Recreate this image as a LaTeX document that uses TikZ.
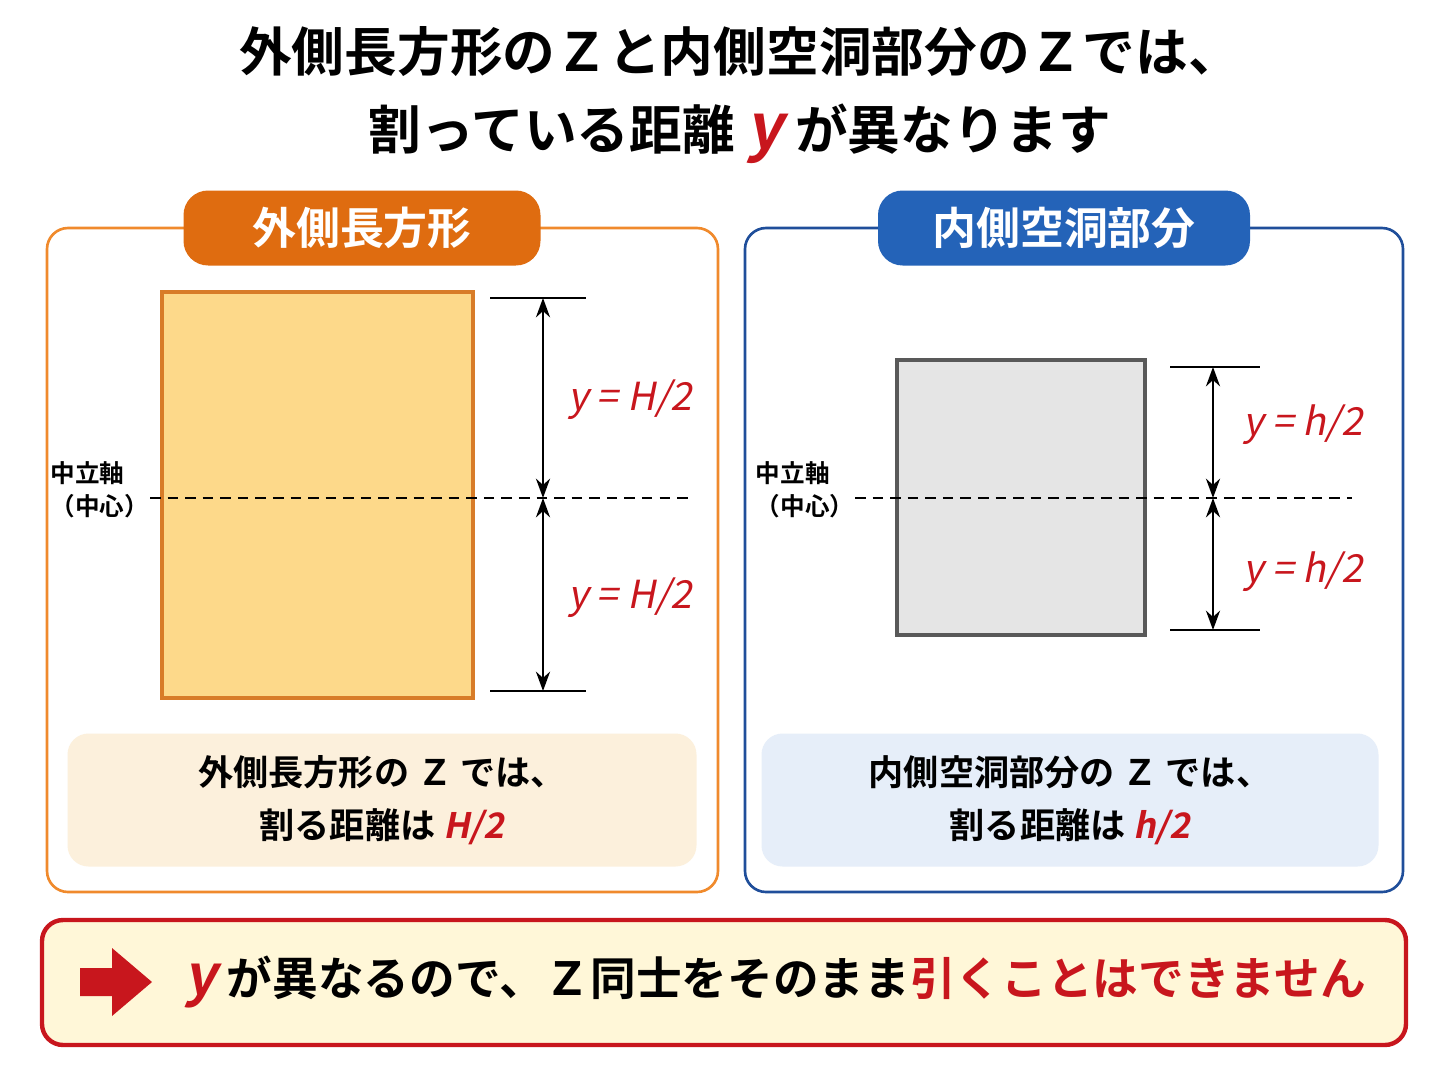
\documentclass[tikz,border=0pt]{standalone}
\usepackage{fontspec}
\setmainfont{Noto Sans CJK JP}[BoldFont={Noto Sans CJK JP Bold}]
\newfontfamily\slantfont{Noto Sans CJK JP}[FakeSlant=0.2, BoldFont={Noto Sans CJK JP Bold}, BoldFeatures={FakeSlant=0.2}]
\usetikzlibrary{arrows.meta}
\definecolor{orangeline}{HTML}{F08A2C}
\definecolor{orangetab}{HTML}{DF6C10}
\definecolor{yellowfill}{HTML}{FDD98A}
\definecolor{blueline}{HTML}{1F4E9A}
\definecolor{bluetab}{HTML}{2463B8}
\definecolor{redtext}{HTML}{C8161D}
\definecolor{peach}{HTML}{FCF0DC}
\definecolor{paleblue}{HTML}{E6EEF9}
\definecolor{cream}{HTML}{FFF7D8}
\tikzstyle{panel} = [rounded corners=12pt, line width=1.5pt, fill=white]
\tikzstyle{tab} = [rounded corners=14pt, text=white, font=\fontsize{25}{28}\selectfont\bfseries]
\tikzstyle{dim} = [line width=1.4pt, {Stealth[length=11pt,width=8pt]}-{Stealth[length=11pt,width=8pt]}]
\tikzstyle{tick} = [line width=1.4pt]
\tikzstyle{axis} = [dashed, line width=1.3pt, dash pattern=on 6pt off 4pt]
\tikzstyle{ylabel} = [text=redtext, font=\fontsize{22}{24}\selectfont\slantfont]
\tikzstyle{axlabel} = [font=\fontsize{14}{19}\selectfont\bfseries, align=left]
\tikzstyle{note} = [font=\fontsize{20}{30}\selectfont\bfseries, align=center]
\begin{document}
\begin{tikzpicture}[x=0.02cm, y=-0.02cm]
\useasboundingbox (0,0) rectangle (1448,1086);

% title
\node (title) [font=\fontsize{30}{44}\selectfont\bfseries, align=center] at (740,95)
  {外側長方形のＺと内側空洞部分のＺでは、\\割っている距離 {\color{redtext}\slantfont\fontsize{36}{40}\selectfont y} が異なります};

% left panel
\draw [panel, draw=orangeline] (47,228) rectangle (718,892);
\node (ltab) [tab, fill=orangetab, minimum width=357*0.02cm, minimum height=75*0.02cm] at (362,228) {外側長方形};
\draw [fill=yellowfill, draw=orangeline!90!black, line width=2pt] (162,292) rectangle (473,698);
\coordinate (ltop) at (543,298);
\coordinate (lmid) at (543,498);
\coordinate (lbot) at (543,691);
\draw [tick] (490,298) -- (586,298);
\draw [tick] (490,691) -- (586,691);
\draw [dim] (ltop) -- (lmid);
\draw [dim] (lmid) -- (lbot);
\draw [axis] (150,498) -- (688,498);
\node (lyt) [ylabel] at (630,400) {y = H/2};
\node (lyb) [ylabel] at (630,598) {y = H/2};
\node (lax) [axlabel] at (100,490) {中立軸\\（中心）};
\node (lnote) [note, fill=peach, rounded corners=12pt, minimum width=629*0.02cm, minimum height=133*0.02cm] at (382,800)
  {外側長方形の Ｚ では、\\割る距離は {\color{redtext}\slantfont H/2}};

% right panel
\draw [panel, draw=blueline] (745,228) rectangle (1403,892);
\node (rtab) [tab, fill=bluetab, minimum width=372*0.02cm, minimum height=75*0.02cm] at (1064,228) {内側空洞部分};
\draw [fill=gray!20, draw=gray!130, line width=2pt] (897,360) rectangle (1145,635);
\coordinate (rtop) at (1213,367);
\coordinate (rmid) at (1213,498);
\coordinate (rbot) at (1213,630);
\draw [tick] (1170,367) -- (1260,367);
\draw [tick] (1170,630) -- (1260,630);
\draw [dim] (rtop) -- (rmid);
\draw [dim] (rmid) -- (rbot);
\draw [axis] (855,498) -- (1352,498);
\node (ryt) [ylabel] at (1303,425) {y = h/2};
\node (ryb) [ylabel] at (1303,572) {y = h/2};
\node (rax) [axlabel] at (805,490) {中立軸\\（中心）};
\node (rnote) [note, fill=paleblue, rounded corners=12pt, minimum width=617*0.02cm, minimum height=133*0.02cm] at (1070,800)
  {内側空洞部分の Ｚ では、\\割る距離は {\color{redtext}\slantfont h/2}};

% bottom conclusion
\draw [rounded corners=12pt, line width=2.5pt, draw=redtext, fill=cream] (42,920) rectangle (1406,1045);
\fill [redtext] (80,968) -- (112,968) -- (112,948) -- (152,982) -- (112,1016) -- (112,996) -- (80,996) -- cycle;
\node (concl) [anchor=west, font=\fontsize{26}{30}\selectfont\bfseries] at (178,982)
  {{\color{redtext}\slantfont\fontsize{32}{34}\selectfont y} が異なるので、Ｚ同士をそのまま{\color{redtext}引くことはできません}};
\end{tikzpicture}
\end{document}
